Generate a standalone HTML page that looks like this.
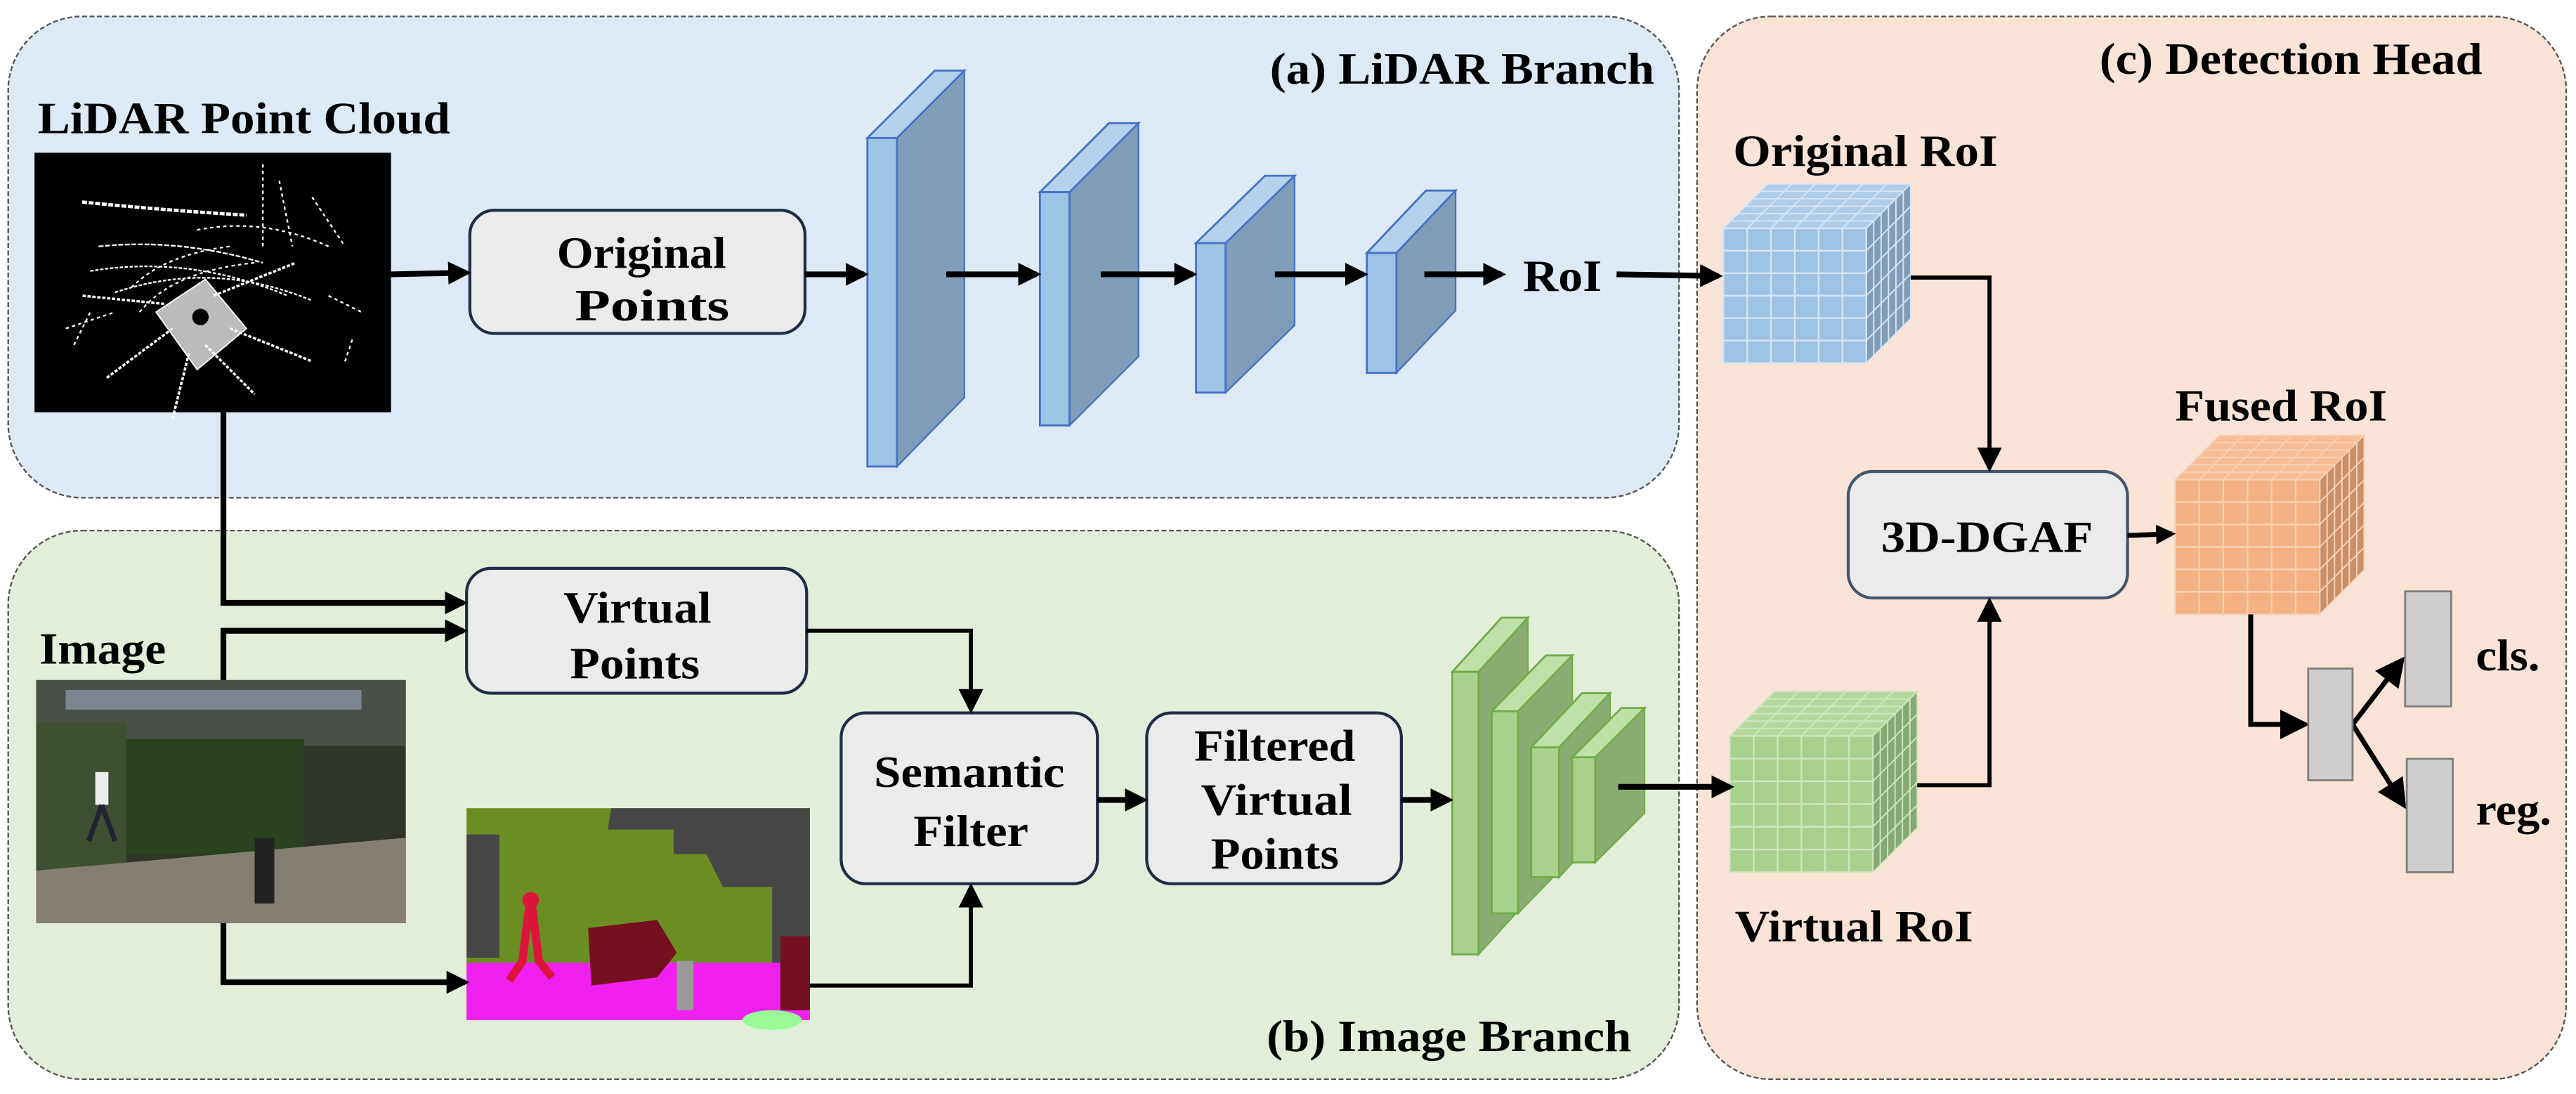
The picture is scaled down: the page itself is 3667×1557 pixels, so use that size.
<!DOCTYPE html>
<html><head><meta charset="utf-8"><style>
html,body{margin:0;padding:0;background:#fff;}
svg{display:block;}
svg text{font-family:"Liberation Serif","DejaVu Serif","Times New Roman",serif;font-weight:bold;fill:#000;}
</style></head><body>
<svg id="s" width="3667" height="1557" viewBox="0 0 1568 666" preserveAspectRatio="none" xmlns="http://www.w3.org/2000/svg">
<defs>
<marker id="ah" markerWidth="4" markerHeight="4" refX="3.2" refY="2" orient="auto" markerUnits="strokeWidth"><path d="M0,0 L4,2 L0,4 z" fill="#000"/></marker>
<marker id="ah2" markerWidth="6" markerHeight="6" refX="5" refY="3" orient="auto" markerUnits="strokeWidth"><path d="M0,0 L6,3 L0,6 z" fill="#000"/></marker>
</defs>
<rect x="5" y="10" width="1017" height="293" rx="45" fill="#dde9f5" stroke="#555" stroke-width="1" stroke-dasharray="3,1.5"/>
<rect x="5" y="323" width="1017" height="334" rx="45" fill="#e2eed9" stroke="#555" stroke-width="1" stroke-dasharray="3,1.5"/>
<rect x="1033" y="10" width="529" height="647" rx="45" fill="#f9e3d6" stroke="#555" stroke-width="1" stroke-dasharray="3,1.5"/>

<rect x="21" y="93" width="217" height="158" fill="#000"/>
<g stroke="#fff" fill="none" stroke-width="1">
<path d="M50,123 q50,5 100,8" stroke-width="2" stroke-dasharray="3,1"/>
<path d="M60,150 q50,-5 100,10" stroke-dasharray="3,1"/>
<path d="M55,165 q60,-10 120,15" stroke-dasharray="2,1"/>
<path d="M70,178 q60,-20 120,5" stroke-dasharray="2,1"/>
<path d="M120,140 q40,-8 80,10" stroke-dasharray="2,2"/>
<path d="M95,190 l30,-20 l25,30 l-30,25 z" fill="#bbb" stroke-width="0.8"/>
<path d="M105,200 l-40,30 M115,215 l-10,40 M130,180 l50,-20 M140,200 l50,20 M100,185 l-50,-5 M125,210 l30,30" stroke-width="1.5" stroke-dasharray="2,1"/>
<path d="M160,100 l0,50 M170,110 l8,40 M190,120 l20,30 M40,200 l30,-10 M200,180 l20,10 M45,210 l10,-20 M210,220 l5,-15" stroke-dasharray="2,2"/>
<path d="M80,175 q20,-20 60,-25 M85,190 q20,-25 70,-30" stroke-dasharray="2,2"/>
</g>
<circle cx="122" cy="193" r="5" fill="#000"/>

<rect x="22" y="414" width="225" height="148" fill="#2f3528"/>
<rect x="22" y="414" width="225" height="40" fill="#4a5048"/>
<rect x="40" y="420" width="180" height="12" fill="#7c8590"/>
<rect x="75" y="450" width="110" height="70" fill="#2a4220"/>
<rect x="22" y="440" width="55" height="90" fill="#3f4f32"/>
<polygon points="22,530 247,510 247,562 22,562" fill="#857e72"/>
<rect x="155" y="510" width="12" height="40" fill="#222"/>
<rect x="58" y="470" width="8" height="20" fill="#eee"/>
<path d="M62,490 l-8,22 M62,490 l8,22" stroke="#223" stroke-width="3"/>

<rect x="284" y="492" width="209" height="129" fill="#6b8e23"/>
<polygon points="372,492 493,492 493,600 470,590 470,540 440,540 430,520 410,520 410,505 370,505" fill="#464646"/>
<rect x="284" y="508" width="20" height="75" fill="#464646"/>
<polygon points="284,586 493,586 493,621 284,621" fill="#f020f0"/>
<polygon points="358,565 400,560 412,580 400,595 360,600" fill="#75101f"/>
<rect x="475" y="570" width="18" height="45" fill="#75101f"/>
<path d="M323,545 l-5,40 l-8,12 M323,545 l5,40 l8,10" stroke="#dc143c" stroke-width="5" fill="none"/>
<circle cx="323" cy="548" r="5" fill="#dc143c"/>
<rect x="412" y="585" width="10" height="30" fill="#999"/>
<ellipse cx="470" cy="621" rx="18" ry="6" fill="#98fb98"/>

<g fill="#ebebeb" stroke="#1f2d45" stroke-width="1.8">
<rect x="286" y="128" width="204" height="75" rx="15"/>
<rect x="284" y="346" width="207" height="76" rx="15"/>
<rect x="512" y="434" width="156" height="104" rx="15"/>
<rect x="698" y="434" width="155" height="104" rx="15"/>
<rect x="1125" y="287" width="170" height="77" rx="15" stroke="#44546a"/>
</g>

<g font-size="27">
<text x="773" y="51" textLength="234" lengthAdjust="spacingAndGlyphs">(a) LiDAR Branch</text>
<text x="771" y="640" textLength="222" lengthAdjust="spacingAndGlyphs">(b) Image Branch</text>
<text x="1278" y="45" textLength="233" lengthAdjust="spacingAndGlyphs">(c) Detection Head</text>
<text x="23" y="81" textLength="251" lengthAdjust="spacingAndGlyphs">LiDAR Point Cloud</text>
<text x="24" y="404" textLength="77" lengthAdjust="spacingAndGlyphs">Image</text>
<text x="339" y="163" textLength="103" lengthAdjust="spacingAndGlyphs">Original</text>
<text x="350" y="195" textLength="94" lengthAdjust="spacingAndGlyphs">Points</text>
<text x="343" y="379" textLength="90" lengthAdjust="spacingAndGlyphs">Virtual</text>
<text x="347" y="413" textLength="79" lengthAdjust="spacingAndGlyphs">Points</text>
<text x="532" y="479" textLength="116" lengthAdjust="spacingAndGlyphs">Semantic</text>
<text x="556" y="515" textLength="70" lengthAdjust="spacingAndGlyphs">Filter</text>
<text x="727" y="463" textLength="98" lengthAdjust="spacingAndGlyphs">Filtered</text>
<text x="731" y="496" textLength="92" lengthAdjust="spacingAndGlyphs">Virtual</text>
<text x="737" y="529" textLength="78" lengthAdjust="spacingAndGlyphs">Points</text>
<text x="927" y="177" textLength="48" lengthAdjust="spacingAndGlyphs">RoI</text>
<text x="1145" y="336" textLength="129" lengthAdjust="spacingAndGlyphs">3D-DGAF</text>
<text x="1055" y="101" textLength="161" lengthAdjust="spacingAndGlyphs">Original RoI</text>
<text x="1056" y="573" textLength="145" lengthAdjust="spacingAndGlyphs">Virtual RoI</text>
<text x="1324" y="256" textLength="129" lengthAdjust="spacingAndGlyphs">Fused RoI</text>
<text x="1507" y="408" textLength="39" lengthAdjust="spacingAndGlyphs">cls.</text>
<text x="1507" y="502" textLength="46" lengthAdjust="spacingAndGlyphs">reg.</text>
</g>

<g id="slabs"></g>
<g id="cubes"></g>

<g stroke="#000" fill="none" stroke-width="3.5" marker-end="url(#ah)">
<line x1="238" y1="167" x2="284" y2="166"/>
<line x1="490" y1="167" x2="526" y2="167"/>
<line x1="576" y1="167" x2="631" y2="167"/>
<line x1="670" y1="167" x2="726" y2="167"/>
<line x1="776" y1="167" x2="830" y2="167"/>
<line x1="867" y1="167" x2="914" y2="167"/>
<line x1="984" y1="167" x2="1046" y2="168"/>
<line x1="668" y1="487" x2="696" y2="487"/>
<line x1="853" y1="487" x2="882" y2="487"/>
<line x1="985" y1="479" x2="1053" y2="479"/>
<polyline points="136,251 136,367 282,367"/>
<polyline points="136,414 136,384 282,384"/>
<polyline points="136,562 136,598 283,598"/>
<line x1="1295" y1="326" x2="1322" y2="325" stroke-width="3"/>
</g>
<g stroke="#000" fill="none" stroke-width="2.5" marker-end="url(#ah2)">
<polyline points="491,384 591,384 591,432"/>
<polyline points="493,600 591,600 591,540"/>
<polyline points="1163,169 1211,169 1211,285"/>
<polyline points="1167,478 1211,478 1211,366"/>
<polyline points="1370,374 1370,441 1403,441" stroke-width="3"/>
<line x1="1432" y1="441" x2="1462" y2="402" stroke-width="3"/>
<line x1="1432" y1="441" x2="1463" y2="490" stroke-width="3"/>
</g>
<g fill="#d0cece" stroke="#7f7f7f" stroke-width="1.2">
<rect x="1405" y="407" width="27" height="68"/>
<rect x="1464" y="360" width="28" height="70"/>
<rect x="1465" y="462" width="28" height="69"/>
</g>
</svg>
<script>
var NS="http://www.w3.org/2000/svg";
function el(p,t,a){var e=document.createElementNS(NS,t);for(var k in a)e.setAttribute(k,a[k]);p.appendChild(e);return e;}
var sg=document.getElementById("slabs");
function slab(fx,fw,ty,by,bx,bty,bby,c1,c2,c3,st){
  el(sg,"polygon",{points:[fx+fw,ty,bx,bty,bx,bby,fx+fw,by].join(" "),fill:c2,stroke:st,"stroke-width":1});
  el(sg,"polygon",{points:[fx,ty,bx-fw,bty,bx,bty,fx+fw,ty].join(" "),fill:c3,stroke:st,"stroke-width":1.2});
  el(sg,"rect",{x:fx,y:ty,width:fw,height:by-ty,fill:c1,stroke:st,"stroke-width":1.2});
}
var B=["#9dc3e6","#7f9db8","#b4d1ee","#4472c4"];
slab(528,18,84,284,587,43,242,B[0],B[1],B[2],B[3]);
slab(633,18,117,259,693,75,217,B[0],B[1],B[2],B[3]);
slab(728,18,148,239,788,107,198,B[0],B[1],B[2],B[3]);
slab(832,18,154,227,886,116,189,B[0],B[1],B[2],B[3]);
var G=["#a9d18e","#8aad74","#bfe0a8","#70ad47"];
slab(884,16,409,581,930,376,548,G[0],G[1],G[2],G[3]);
slab(908,16,433,556,957,399,522,G[0],G[1],G[2],G[3]);
slab(932,17,455,534,980,422,501,G[0],G[1],G[2],G[3]);
slab(957,14,461,525,1001,431,495,G[0],G[1],G[2],G[3]);
var cg=document.getElementById("cubes");
function cube(x,y,w,h,d,fill,side,top,line){
  var n=6,cw=w/n,chh=h/n,dd=d/n;
  for(var k=n-1;k>=0;k--){for(var i=0;i<n;i++){
    var ox=x+i*cw+k*dd, oy=y-k*dd;
    el(cg,"polygon",{points:[ox,oy,ox+cw,oy,ox+cw+dd,oy-dd,ox+dd,oy-dd].join(" "),fill:top,stroke:line,"stroke-width":0.8});
  }}
  for(var k=n-1;k>=0;k--){for(var j=0;j<n;j++){
    var ox=x+w+k*dd, oy=y+j*chh-k*dd;
    el(cg,"polygon",{points:[ox,oy,ox+dd,oy-dd,ox+dd,oy+chh-dd,ox,oy+chh].join(" "),fill:side,stroke:line,"stroke-width":0.8});
  }}
  for(var i=0;i<n;i++)for(var j=0;j<n;j++)
    el(cg,"rect",{x:x+i*cw,y:y+j*chh,width:cw,height:chh,fill:fill,stroke:line,"stroke-width":1});
}
cube(1049,139,87,82,27,"#9dc3e6","#7f9db8","#aecdea","#d6e4f4");
cube(1053,448,87,83,27,"#a9d18e","#87a872","#b5d99c","#cfe6bf");
cube(1324,292,88,82,27,"#f4b183","#c98f68","#f6bd96","#f8d2b8");
</script>
</body></html>
